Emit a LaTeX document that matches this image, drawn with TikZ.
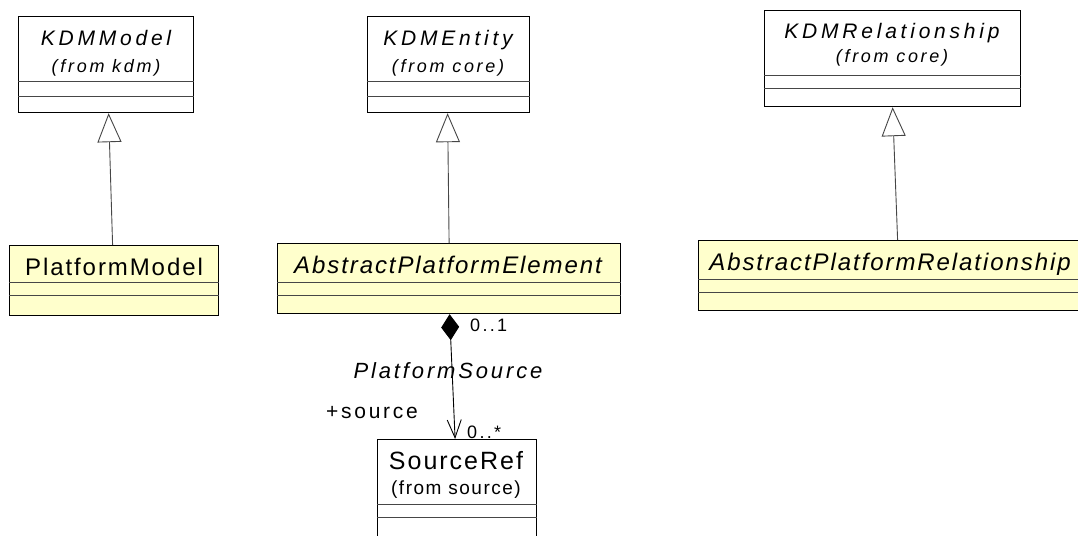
\documentclass[tikz,border=0pt]{standalone}
\usepackage{fontspec}
\setmainfont{Liberation Sans}
\newfontfamily\kdmfont[LetterSpace=18]{Liberation Sans}
\newfontfamily\fromfont[LetterSpace=15]{Liberation Sans}
\newfontfamily\pltfont[LetterSpace=8]{Liberation Sans}
\newfontfamily\srcfont[LetterSpace=8]{Liberation Sans}
\newfontfamily\lblfont[LetterSpace=13]{Liberation Sans}
\usetikzlibrary{arrows.meta, positioning, calc}
\definecolor{roseyellow}{RGB}{255,255,204}
\definecolor{linegray}{RGB}{70,70,70}
\tikzset{
  umlclass/.style={
    rectangle, draw=black, line width=1.2pt, fill=white, inner sep=0pt,
    anchor=north west
  },
  umlyellow/.style={umlclass, fill=roseyellow},
  compart/.style={line width=0.9pt, draw=linegray},
  kdmname/.style={anchor=base, inner sep=0pt, font=\kdmfont\fontsize{21}{25}\selectfont\itshape},
  kdmfrom/.style={anchor=base, inner sep=0pt, font=\fromfont\fontsize{18}{21}\selectfont\itshape},
  pltname/.style={anchor=base, inner sep=0pt, font=\pltfont\fontsize{24}{28}\selectfont},
  multlabel/.style={anchor=base west, inner sep=0pt, font=\lblfont\fontsize{18}{21}\selectfont},
  inherit/.style={-{Triangle[open, length=29pt, width=24pt, fill=white]}, line width=0.9pt, draw=linegray},
  compose/.style={{Diamond[length=26pt, width=18pt]}-{Straight Barb[length=18pt, width=14pt]}, line width=0.9pt}
}
\begin{document}
\begin{tikzpicture}[x=1pt, y=-1pt]
  \useasboundingbox (0,0) rectangle (1078,535);

  % classes from other packages
  \node[umlclass, minimum width=175pt, minimum height=96pt] (kdmmodel) at (18,16) {};
  \node[umlclass, minimum width=162pt, minimum height=96pt] (kdmentity) at (367,16) {};
  \node[umlclass, minimum width=256pt, minimum height=96pt] (kdmrel) at (764,10) {};
  \node[umlclass, minimum width=159pt, minimum height=110pt] (sourceref) at (377,439) {};

  % platform classes
  \node[umlyellow, minimum width=209pt, minimum height=70pt] (platmodel) at (9,245) {};
  \node[umlyellow, minimum width=343pt, minimum height=70pt] (platelem) at (277,243) {};
  \node[umlyellow, minimum width=390pt, minimum height=70pt] (platrel) at (698,240) {};

  % compartment lines
  \foreach \c/\a/\b in {kdmmodel/65/80, kdmentity/65/80, kdmrel/65/78,
      sourceref/65/78, platmodel/37/50, platelem/39/52, platrel/39/52} {
    \draw[compart] ([yshift=-\a pt]\c.north west) -- ([yshift=-\a pt]\c.north east);
    \draw[compart] ([yshift=-\b pt]\c.north west) -- ([yshift=-\b pt]\c.north east);
  }

  % names
  \node[kdmname] (kdmmodel-name) at (106,46) {KDMModel};
  \node[kdmfrom] (kdmmodel-from) at (106,72) {(from kdm)};
  \node[kdmname] (kdmentity-name) at (448,46) {KDMEntity};
  \node[kdmfrom] (kdmentity-from) at (448,72) {(from core)};
  \node[kdmname] (kdmrel-name) at (892,39) {KDMRelationship};
  \node[kdmfrom] (kdmrel-from) at (892,63) {(from core)};
  \node[pltname] (platmodel-name) at (114,275) {PlatformModel};
  \node[pltname, font=\pltfont\fontsize{24}{28}\selectfont\itshape] (platelem-name) at (448,273) {AbstractPlatformElement};
  \node[pltname, font=\pltfont\fontsize{24}{28}\selectfont\itshape] (platrel-name) at (890,270) {AbstractPlatformRelationship};
  \node[anchor=base, inner sep=0pt, font=\srcfont\fontsize{25}{29}\selectfont] (sourceref-name) at (456,469) {SourceRef};
  \node[anchor=base, inner sep=0pt, font=\srcfont\fontsize{19}{22}\selectfont] (sourceref-from) at (456,494) {(from source)};

  % generalizations
  \draw[inherit] ([xshift=-1.5pt]platmodel.north) -- ([xshift=2.5pt]kdmmodel.south);
  \draw[inherit] (platelem.north) -- ([xshift=-1pt]kdmentity.south);
  \draw[inherit] ([xshift=4pt]platrel.north) -- (kdmrel.south);

  % composition
  \draw[compose] ([xshift=0.5pt]platelem.south) -- ([xshift=-2pt]sourceref.north);
  \node[multlabel] (mult-one) at (470,331) {0..1};
  \node[multlabel] (mult-many) at (467,438) {0..*};
  \node[anchor=base, inner sep=0pt, font=\lblfont\fontsize{22}{26}\selectfont\itshape] (assoc-name) at (448,378) {PlatformSource};
  \node[anchor=base west, inner sep=0pt, font=\lblfont\fontsize{21}{25}\selectfont] (role-src) at (326,418) {+source};
\end{tikzpicture}
\end{document}
